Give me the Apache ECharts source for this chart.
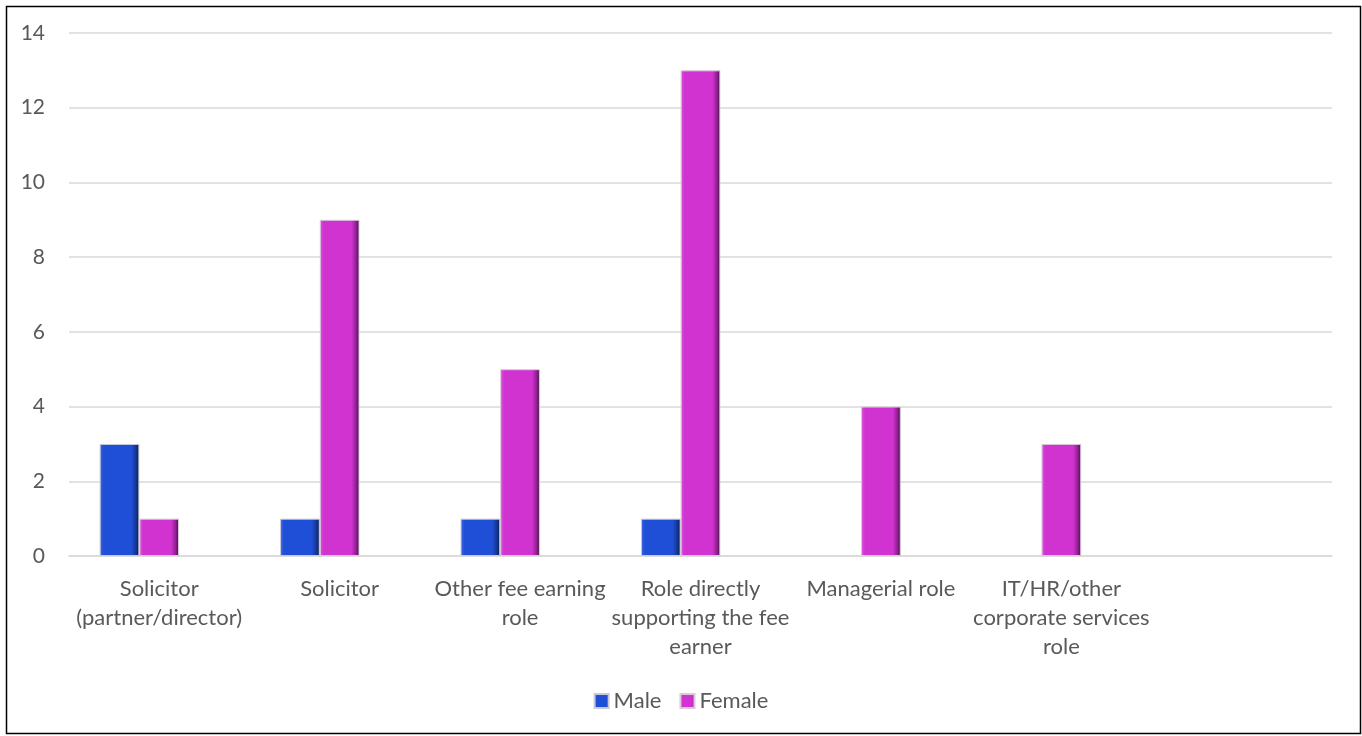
<!DOCTYPE html>
<html>
<head>
<meta charset="utf-8">
<script src="https://cdn.jsdelivr.net/npm/echarts@6/dist/echarts.min.js"></script>
<style>
html,body{margin:0;padding:0;background:#fff;}
#chart{width:1362px;height:736px;}
</style>
</head>
<body>
<div id="chart"></div>
<script>
const categories = [
  'Solicitor\n(partner/director)',
  'Solicitor',
  'Other fee earning\nrole',
  'Role directly\nsupporting the fee\nearner',
  'Managerial role',
  'IT/HR/other\ncorporate services\nrole',
  ''
];
const maleValues = [3, 1, 1, 1, null, null, null];
const femaleValues = [1, 9, 5, 13, 4, 3, null];
const emptySeriesValues = [null, null, null, null, null, null, null];
const yTicks = [0, 2, 4, 6, 8, 10, 12, 14];

const FONT = 'Lato';
const TXT = '#595959';

function barGrad(light, base, dark, edge) {
  return new echarts.graphic.LinearGradient(0, 0, 1, 0, [
    {offset: 0, color: light},
    {offset: 0.1, color: base},
    {offset: 0.8, color: base},
    {offset: 0.92, color: dark},
    {offset: 1, color: edge}
  ]);
}

const chart = echarts.init(document.getElementById('chart'), null, {renderer: 'canvas'});
chart.setOption({
  animation: false,
  backgroundColor: '#fff',
  graphic: [{
    type: 'rect',
    left: 4, top: 4,
    shape: {width: 1354, height: 727},
    style: {fill: 'none', stroke: '#000', lineWidth: 1.5},
    silent: true,
    z: 100
  }],
  grid: {left: 69, right: 30, top: 33, bottom: 180, containLabel: false},
  legend: {
    data: ['Male', 'Female'],
    bottom: 19,
    left: 'center',
    itemWidth: 14,
    itemHeight: 14,
    itemGap: 18,
    itemTextGap: 5,
    icon: 'rect',
    textStyle: {fontFamily: FONT, fontSize: 22, color: TXT}
  },
  xAxis: {
    type: 'category',
    data: categories,
    axisLine: {show: true, lineStyle: {color: '#d9d9d9', width: 1.5}},
    axisTick: {show: false},
    axisLabel: {
      interval: 0,
      margin: 18,
      fontFamily: FONT,
      fontSize: 22,
      color: TXT,
      lineHeight: 29,
      align: 'center',
      verticalAlign: 'top'
    }
  },
  yAxis: {
    type: 'value',
    min: 0,
    max: 14,
    interval: 2,
    axisLine: {show: false},
    axisTick: {show: false},
    splitLine: {lineStyle: {color: '#d9d9d9', width: 1.5}},
    axisLabel: {
      margin: 24,
      fontFamily: FONT,
      fontSize: 21,
      color: TXT,
      formatter: function (v) { return yTicks.indexOf(v) >= 0 ? String(v) : ''; }
    }
  },
  series: [
    {
      name: 'Male',
      type: 'bar',
      data: maleValues,
      barGap: '0%',
      barCategoryGap: '34%',
      itemStyle: {
        color: barGrad('#3f66e6', '#1f4fd6', '#14348e', '#081a4a'),
        borderColor: '#c9c9d9',
        borderWidth: 1
      }
    },
    {
      name: 'Female',
      type: 'bar',
      data: femaleValues,
      barGap: '0%',
      barCategoryGap: '34%',
      itemStyle: {
        color: barGrad('#e055e0', '#d033d0', '#8e1f8e', '#3e0a3e'),
        borderColor: '#d9c9d9',
        borderWidth: 1
      }
    },
    {
      name: 'Other',
      type: 'bar',
      data: emptySeriesValues,
      barGap: '0%',
      barCategoryGap: '34%',
      itemStyle: {color: '#a0a0a0'}
    }
  ]
});
</script>
</body>
</html>
